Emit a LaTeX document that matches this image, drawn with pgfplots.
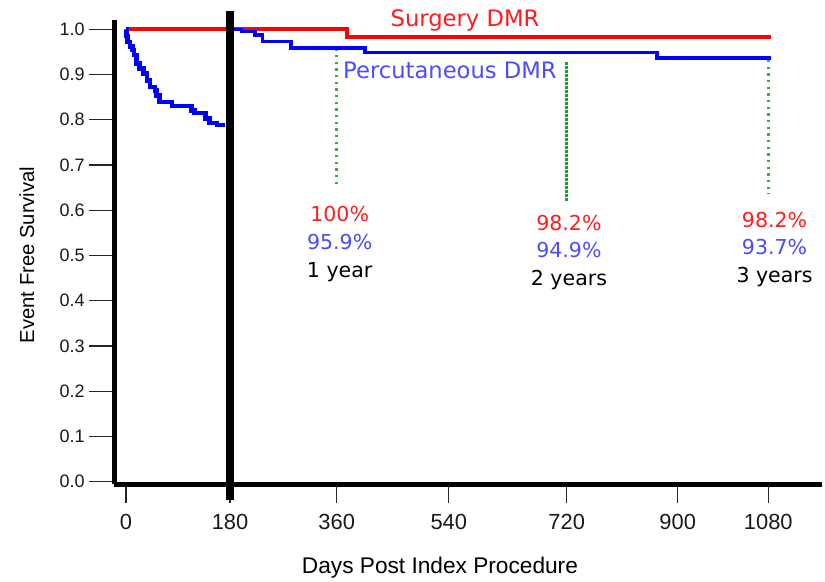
\documentclass[border=0pt]{standalone}
\usepackage{fontspec}
\setmainfont{Liberation Sans}
\newfontfamily\dv{DejaVu Sans}
\usepackage{pgfplots}
\pgfplotsset{compat=1.18}

\definecolor{kmred}{RGB}{255,0,0}
\definecolor{kmblue}{RGB}{0,0,255}
\definecolor{lblred}{RGB}{255,28,28}
\definecolor{lblblue}{RGB}{75,75,255}
\definecolor{mkgreen}{RGB}{60,168,72}
\definecolor{mkgreendk}{RGB}{35,155,55}

% day axis drawn piecewise, one stretch per 180-day interval
\pgfplotsset{
  dayaxis/.style={
    x coord trafo/.code={\pgfmathparse{(##1)<180 ? 126+(##1)*0.57778 :
      ((##1)<360 ? 230+((##1)-180)*0.59278 :
      ((##1)<540 ? 336.7+((##1)-360)*0.62278 :
      ((##1)<720 ? 448.8+((##1)-540)*0.655 :
      ((##1)<900 ? 566.7+((##1)-720)*0.61667 :
        677.7+((##1)-900)*0.50333))))}},
  }
}

\begin{document}
\begin{tikzpicture}
\begin{axis}[
  dayaxis,
  scale only axis,
  width=530.6pt, height=348pt,
  xmin=-19.9, xmax=1186.7,
  ymin=-0.005, ymax=1.0206,
  axis lines=left,
  axis line style={-, line width=3.75pt, black},
  tick align=outside,
  major tick length=18.9pt,
  tick style={line width=1pt, color=black!85},
  xtick style={/pgfplots/major tick length=14.5pt},
  xtick={0,180,360,540,720,900,1080},
  xticklabels={0,180,360,540,720,900,1080},
  ytick={0,0.1,0.2,0.3,0.4,0.5,0.6,0.7,0.8,0.9,1.0},
  yticklabels={0.0,0.1,0.2,0.3,0.4,0.5,0.6,0.7,0.8,0.9,1.0},
  minor tick num=0,
  xticklabel style={font=\fontsize{16.4}{19}\selectfont, text=black!90},
  yticklabel style={font=\fontsize{13.5}{16}\selectfont, text=black!90},
  xlabel={Days Post Index Procedure},
  ylabel={Event Free Survival},
  xlabel style={font=\fontsize{17}{20}\selectfont, at={(axis description cs:0.460,-0.181)}, anchor=center},
  ylabel style={font=\fontsize{15.2}{18}\selectfont, at={(axis description cs:-0.1237,0.4935)}, anchor=center},
  clip=false,
]
\coordinate (ll) at (rel axis cs:0,0);

% landmark markers at 1, 2 and 3 years
\addplot[mkgreen, line width=2pt, dash pattern=on 1.7pt off 3.3pt, forget plot]
  coordinates {(360,0.958) (360,0.649)};
\addplot[mkgreendk, line width=2.3pt, dash pattern=on 2pt off 1pt, forget plot]
  coordinates {(720,0.928) (720,0.619)};
\addplot[mkgreen, line width=2pt, dash pattern=on 1.7pt off 3.3pt, forget plot]
  coordinates {(1080,0.932) (1080,0.637)};

% surgical DMR
\addplot[kmred, line width=3pt, const plot] coordinates {
  (0,1.000) (376,0.982) (1085,0.982)};

% percutaneous DMR, first 180 days
\addplot[kmblue, line width=3.4pt, const plot] coordinates {
  (0,1.000) (0.8,0.985) (2.8,0.972) (6.7,0.962) (11.2,0.954) (13.8,0.943)
  (17.8,0.924) (23.3,0.913) (30.5,0.902) (36.2,0.887) (41.7,0.872)
  (50,0.865) (52.8,0.854) (58.3,0.839) (80,0.831) (113.3,0.821)
  (118.3,0.815) (137.5,0.803) (144.2,0.793) (157.5,0.788) (171.7,0.788)};

% percutaneous DMR, after 180 days
\addplot[kmblue, line width=2.6pt, const plot] coordinates {
  (180,1.000) (199.7,0.995) (222,0.987) (234.8,0.973) (282.9,0.959)
  (405.4,0.949) (866.5,0.937) (1085,0.937)};

% 180-day mark
\addplot[black, line width=6pt, forget plot] coordinates {(180,-0.040) (180,1.040)};

\node[anchor=base, text=lblred, font=\dv\fontsize{17}{20}\selectfont]
  at (axis cs:564.7,1.006) {Surgery DMR};
\node[anchor=base, text=lblblue, font=\dv\fontsize{17}{20}\selectfont]
  at (axis cs:541.8,0.8917) {Percutaneous DMR};

\node[anchor=base, text=lblred, font=\dv\fontsize{15.4}{18}\selectfont] at (axis cs:364.8,0.5752) {100\%};
\node[anchor=base, text=lblblue, font=\dv\fontsize{15.4}{18}\selectfont] at (axis cs:364.8,0.5144) {95.9\%};
\node[anchor=base, text=black, font=\dv\fontsize{15.4}{18}\selectfont] at (axis cs:364.8,0.4525) {1 year};

\node[anchor=base, text=lblred, font=\dv\fontsize{15.4}{18}\selectfont] at (axis cs:723.7,0.5564) {98.2\%};
\node[anchor=base, text=lblblue, font=\dv\fontsize{15.4}{18}\selectfont] at (axis cs:723.7,0.4956) {94.9\%};
\node[anchor=base, text=black, font=\dv\fontsize{15.4}{18}\selectfont] at (axis cs:723.7,0.4348) {2 years};

\node[anchor=base, text=lblred, font=\dv\fontsize{15.4}{18}\selectfont] at (axis cs:1092.5,0.5630) {98.2\%};
\node[anchor=base, text=lblblue, font=\dv\fontsize{15.4}{18}\selectfont] at (axis cs:1092.5,0.5033) {93.7\%};
\node[anchor=base, text=black, font=\dv\fontsize{15.4}{18}\selectfont] at (axis cs:1092.5,0.4414) {3 years};
\end{axis}
\pgfresetboundingbox
\path ([xshift=-85.875pt,yshift=-73.5pt]ll) rectangle ([xshift=532.875pt,yshift=363pt]ll);
\end{tikzpicture}
\end{document}
